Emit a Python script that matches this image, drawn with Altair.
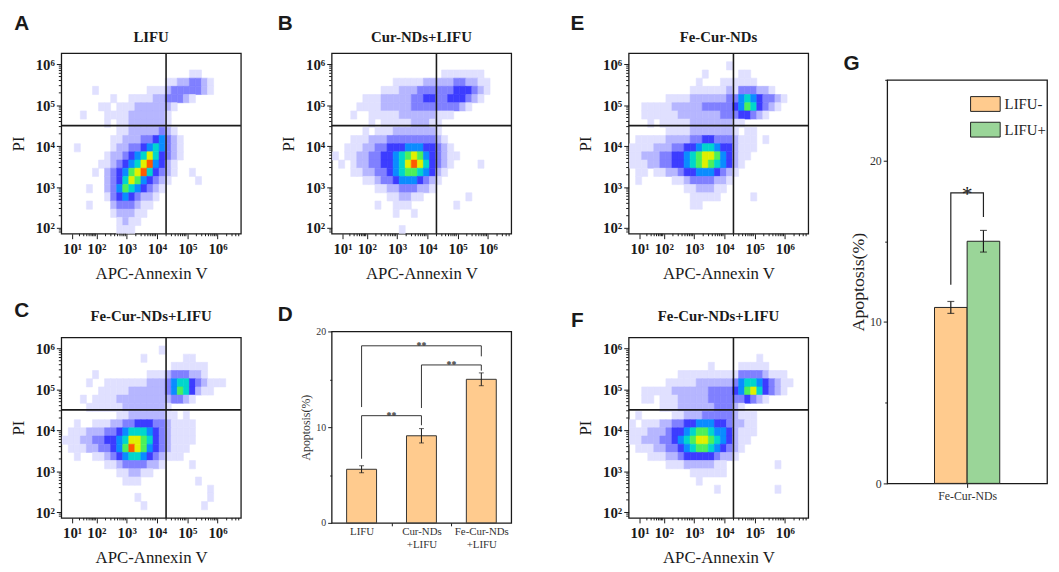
import json
import numpy as np
import pandas as pd
import altair as alt

# ---------------- data ----------------
# Flow-cytometry density maps, one tuple per run of cells:
# (row index, first column index, density level 0-9 of consecutive cells)
A_GRID = [
    (19, 21, "11"),
    (18, 17, "11223321"),
    (17, 5, "1"), (17, 14, "11123333321"),
    (16, 8, "10011112233321"),
    (15, 6, "1101112222221"),
    (14, 3, "100011112222221"),
    (13, 7, "10112222221"),
    (12, 9, "1122222321"),
    (11, 8, "112223345321"),
    (10, 2, "1"), (10, 8, "122334565321"),
    (9, 7, "1223456864321"),
    (8, 6, "1123456895421"),
    (7, 5, "10234578964321001"),
    (6, 7, "2346875432100001"),
    (5, 4, "1002357654321"),
    (4, 7, "134543221"),
    (3, 4, "10002333211"),
    (2, 8, "122211"),
    (1, 9, "1211"),
    (0, 9, "111"),
]
B_GRID = [
    (19, 18, "1111111"),
    (18, 10, "1111122222332211"),
    (17, 8, "111222333333444321"),
    (16, 5, "11122222334433444321"),
    (15, 4, "1111222223333333321"),
    (14, 3, "10011111222222111"),
    (13, 6, "101111122211"),
    (12, 5, "1011122222221"),
    (11, 3, "1112223333333321"),
    (10, 2, "111223344455544321"),
    (9, 0, "101122334456787543211"),
    (8, 1, "1012233445689864321"), (8, 24, "1"),
    (7, 3, "1122334567765421"),
    (6, 5, "1123345554321"),
    (5, 7, "1122333221"),
    (4, 9, "112211"), (4, 22, "1"),
    (3, 7, "100111"), (3, 20, "1"),
    (2, 10, "1001"),
    (0, 11, "1"),
]
E_GRID = [
    (20, 16, "1"),
    (19, 12, "1"), (19, 18, "11"),
    (18, 11, "1"), (18, 15, "111111"),
    (17, 10, "11111121333221"),
    (16, 6, "11112222223356543321"),
    (15, 2, "11111222223333345764321"),
    (14, 2, "111111222222233344321"),
    (13, 3, "1011111222222211"),
    (12, 6, "111122222221011"),
    (11, 1, "1111122223344333211101"),
    (10, 0, "111122233445665442111"),
    (9, 0, "11222334456788754211"),
    (8, 0, "1112233445678765421"),
    (7, 1, "11011223445554321"),
    (6, 1, "1"), (6, 7, "1123333221"),
    (5, 9, "1122211"),
    (4, 10, "11111"), (4, 20, "1"),
    (3, 10, "11"),
]
C_GRID = [
    (20, 16, "1"),
    (19, 13, "1"), (19, 20, "11"),
    (18, 18, "111111"),
    (17, 5, "1"), (17, 14, "1112333221"),
    (16, 4, "10011111112223566432111"),
    (15, 6, "1111122222235764211"),
    (14, 3, "1011112222222223321"),
    (13, 4, "11111122222221"),
    (12, 9, "112222221101"),
    (11, 2, "10011122334443321111"),
    (10, 1, "111222334566654321111"),
    (9, 0, "1112233445688764321111"),
    (8, 1, "11122334579875432111"),
    (7, 2, "100112345665432111"),
    (6, 7, "112333322100001"),
    (5, 9, "112211"),
    (4, 10, "111"), (4, 22, "1"),
    (3, 24, "1"),
    (2, 12, "1"), (2, 24, "1"),
    (1, 13, "1"), (1, 23, "1"),
]
F_GRID = [
    (19, 21, "1"),
    (18, 13, "1000011111"),
    (17, 8, "111111111133332111"),
    (16, 6, "111112222223566543211"),
    (15, 2, "111112222223333457864321"),
    (14, 2, "110111222223333334321"),
    (13, 5, "11122222233321"),
    (12, 1, "1"), (12, 7, "11222333332111"),
    (11, 0, "101112233445554432211"),
    (10, 0, "111222344567765542111"),
    (9, 0, "11222334567887654211"),
    (8, 1, "111223345677654321"),
    (7, 3, "111223444443221"),
    (6, 6, "1112222211"), (6, 24, "1"),
    (5, 10, "111111"),
    (4, 11, "1"),
    (3, 14, "1"), (3, 24, "1"),
]

FLOW_TITLES = ["LIFU", "Cur-NDs+LIFU", "Fe-Cur-NDs", "Fe-Cur-NDs+LIFU", "Fe-Cur-NDs+LIFU"]
FLOW_LETTERS = ["A", "B", "E", "C", "F"]
X_TICK_LABELS = ["10¹", "10²", "10³", "10⁴", "10⁵", "10⁶"]
Y_TICK_LABELS = ["10²", "10³", "10⁴", "10⁵", "10⁶"]
GATE_X = 4.3
GATE_Y = 4.5

D_GROUPS = [["LIFU"], ["Cur-NDs", "+LIFU"], ["Fe-Cur-NDs", "+LIFU"]]
D_MEAN = [5.6, 9.1, 15.0]
D_ERR = [0.37, 0.75, 0.67]
# left group, right group, left arm bottom, bracket top, right arm bottom
D_BRACKETS = [
    (0, 1, 6.7, 11.2, 10.2),
    (1, 2, 12.0, 16.5, 15.9),
    (0, 2, 12.1, 18.5, 17.4),
]
D_STARS = ["**", "**", "**"]

G_CATEGORY = "Fe-Cur-NDs"
G_SERIES = ["LIFU-", "LIFU+"]
G_MEAN = [10.9, 15.0]
G_ERR = [0.37, 0.67]
G_BRACKET = (12.3, 18.0, 16.5)
G_STAR = "*"

# ---------------- styling / geometry ----------------
SERIF = "Liberation Serif"
SANS = "Liberation Sans"
INK = "#1a1a1a"
LEVEL_COLORS = ["#e0e0ff", "#b6b6ff", "#8080ff", "#3c3cff", "#0a8cff",
                "#00d6cc", "#4cf05a", "#e0f000", "#ff5a00"]
ORANGE = "#FFCB8E"
GREEN = "#9AD598"

FW, FH = 182, 183
XMIN, XMAX = 0.84, 6.77
YMIN, YMAX = 1.86, 6.27
X0, Y0, CELL = 0.87, 1.86, 0.2
X_MAJOR = [1.2, 2, 3, 4, 5, 6]
Y_MAJOR = [2, 3, 4, 5, 6]
X_MINOR = [round(1.2 + 0.8 * float(np.log10(k)), 4) for k in range(2, 10)] + [
    round(n + float(np.log10(k)), 4) for n in range(2, 7) for k in range(2, 10)
    if n + np.log10(k) < XMAX - 0.02]
Y_MINOR = [round(n + float(np.log10(k)), 4) for n in range(1, 7) for k in range(2, 10)
           if YMIN + 0.02 < n + np.log10(k) < YMAX - 0.02]


def label_expr(values, labels):
    expr = ""
    for v, l in zip(values, labels):
        expr += f"abs(datum.value - {v}) < 0.001 ? {json.dumps(l, ensure_ascii=False)} : "
    return expr + "''"


def grid_frame(grid):
    rows = []
    for j, c0, digits in grid:
        for k, ch in enumerate(digits):
            if ch != "0":
                i = c0 + k
                rows.append({"x0": X0 + CELL * i, "x1": X0 + CELL * (i + 1),
                             "y0": Y0 + CELL * j, "y1": Y0 + CELL * (j + 1), "lvl": ch})
    return pd.DataFrame(rows)


ONE = pd.DataFrame({"k": [0]})


def anchors(L, R, T, B, W, H):
    base = alt.Chart(ONE).mark_rule(stroke="white", strokeOpacity=0.01, strokeWidth=1)
    h = base.encode(x=alt.value(-L), x2=alt.value(W + R), y=alt.value(-T))
    v = base.encode(x=alt.value(-L), y=alt.value(-T), y2=alt.value(H + B))
    return [h, v]


def text_layer(txt, x, y, font, size, weight="normal", baseline="middle", align="center"):
    return alt.Chart(pd.DataFrame({"t": [txt]})).mark_text(
        font=font, fontSize=size, fontWeight=weight, color=INK,
        baseline=baseline, align=align
    ).encode(text="t:N", x=alt.value(x), y=alt.value(y))


XAXIS = alt.Axis(
    values=X_MAJOR, labelExpr=label_expr(X_MAJOR, X_TICK_LABELS),
    title="APC-Annexin V", titleFont=SERIF, titleFontSize=17, titleFontWeight="normal",
    titleColor=INK, titlePadding=9, labelFont=SERIF, labelFontSize=15, labelFontWeight="bold",
    labelColor=INK, labelPadding=3, labelOverlap=False, labelFlush=False, labelSeparation=0,
    tickSize=5, tickColor=INK, domain=False, grid=False)
YAXIS = alt.Axis(
    values=Y_MAJOR, labelExpr=label_expr(Y_MAJOR, Y_TICK_LABELS),
    title="PI", titleFont=SERIF, titleFontSize=17, titleFontWeight="normal",
    titleColor=INK, titlePadding=8, labelFont=SERIF, labelFontSize=15, labelFontWeight="bold",
    labelColor=INK, labelPadding=2, labelOverlap=False, labelFlush=False,
    tickSize=5, tickColor=INK, domain=False, grid=False)
XS = alt.Scale(domain=[XMIN, XMAX], nice=False, zero=False)
YS = alt.Scale(domain=[YMIN, YMAX], nice=False, zero=False)


def flow_panel(grid, title, letter, title_y, letter_xy, anc):
    df = grid_frame(grid)
    lvl_scale = alt.Scale(domain=list("123456789"), range=LEVEL_COLORS)
    heat = alt.Chart(df).mark_rect(clip=True, strokeWidth=0.6).encode(
        x=alt.X("x0:Q", scale=XS, axis=XAXIS), x2="x1",
        y=alt.Y("y0:Q", scale=YS, axis=YAXIS), y2="y1",
        color=alt.Color("lvl:N", scale=lvl_scale, legend=None),
        stroke=alt.Stroke("lvl:N", scale=lvl_scale, legend=None),
    )
    xminor = alt.Chart(pd.DataFrame({"x0": X_MINOR})).mark_rule(color=INK, strokeWidth=1).encode(
        x=alt.X("x0:Q", scale=XS, axis=XAXIS), y=alt.value(FH), y2=alt.value(FH + 2.5))
    yminor = alt.Chart(pd.DataFrame({"y0": Y_MINOR})).mark_rule(color=INK, strokeWidth=1).encode(
        y=alt.Y("y0:Q", scale=YS, axis=YAXIS), x=alt.value(0), x2=alt.value(-2.5))
    vg = alt.Chart(pd.DataFrame({"x0": [GATE_X]})).mark_rule(color=INK, strokeWidth=1.6).encode(
        x=alt.X("x0:Q", scale=XS, axis=XAXIS))
    hg = alt.Chart(pd.DataFrame({"y0": [GATE_Y]})).mark_rule(color=INK, strokeWidth=1.6).encode(
        y=alt.Y("y0:Q", scale=YS, axis=YAXIS))
    t = text_layer(title, FW / 2, title_y, SERIF, 15, "bold")
    lt = text_layer(letter, letter_xy[0], letter_xy[1], SANS, 21, "bold", baseline="top")
    return alt.layer(*anchors(*anc, FW, FH), heat, xminor, yminor, vg, hg, t, lt).properties(
        width=FW, height=FH)


# ---------------- panel D ----------------
DW, DH = 182, 194
d_df = pd.DataFrame({"pos": list(range(len(D_MEAN))), "m": D_MEAN, "e": D_ERR})
d_df["x0"] = d_df["pos"] - 0.25
d_df["x1"] = d_df["pos"] + 0.25
d_df["lo"] = d_df["m"] - d_df["e"]
d_df["hi"] = d_df["m"] + d_df["e"]

br_rows, star_rows = [], []
for b, (l, r, llo, top, rlo) in enumerate(D_BRACKETS):
    for o, (xx, yy) in enumerate([(l, llo), (l, top), (r, top), (r, rlo)]):
        br_rows.append({"b": b, "o": o, "x0": xx, "m": yy})
    star_rows.append({"x0": (l + r) / 2, "m": top, "s": D_STARS[b]})
d_br = pd.DataFrame(br_rows)
d_st = pd.DataFrame(star_rows)

d_xaxis = alt.Axis(
    values=[0, 0.5, 1, 1.5, 2], labelExpr=label_expr([0, 1, 2], D_GROUPS), title=None,
    labelFont=SERIF, labelFontSize=11, labelColor="#333", labelLineHeight=13, labelPadding=3,
    labelOverlap=False, labelFlush=False,
    tickSize={"condition": {"test": "datum.value % 1 != 0", "value": 3}, "value": 0},
    tickColor=INK, domain=False, grid=False)
d_yaxis = alt.Axis(
    values=[0, 5, 10, 15, 20], labelExpr="datum.value % 10 == 0 ? datum.label : ''",
    title="Apoptosis(%)", titleFont=SERIF, titleFontSize=12, titleFontWeight="normal",
    titleColor="#333", titlePadding=3, labelFont=SERIF, labelFontSize=10, labelColor="#333",
    labelPadding=2, labelOverlap=False,
    tickSize={"condition": {"test": "datum.value % 10 == 0", "value": 4}, "value": 2},
    tickColor=INK, domain=False, grid=False)
d_x = alt.Scale(domain=[-0.5, 2.5], nice=False, zero=False)
d_y = alt.Scale(domain=[0, 20], nice=False)
d_bars = alt.Chart(d_df).mark_rect(fill=ORANGE, stroke="#333", strokeWidth=1).encode(
    x=alt.X("x0:Q", scale=d_x, axis=d_xaxis), x2="x1",
    y=alt.Y("m:Q", scale=d_y, axis=d_yaxis), y2=alt.datum(0))
d_err = alt.Chart(d_df).mark_rule(color=INK, strokeWidth=1).encode(
    x="pos:Q", y="lo:Q", y2="hi")
d_cap_lo = alt.Chart(d_df).mark_tick(orient="horizontal", size=5, thickness=1, color=INK).encode(
    x="pos:Q", y="lo:Q")
d_cap_hi = alt.Chart(d_df).mark_tick(orient="horizontal", size=5, thickness=1, color=INK).encode(
    x="pos:Q", y="hi:Q")
d_lines = alt.Chart(d_br).mark_line(color="#333", strokeWidth=1).encode(
    x="x0:Q", y="m:Q", detail="b:N", order="o:Q")
d_stars = alt.Chart(d_st).mark_text(font=SERIF, fontSize=10, fontWeight="bold", color="#333",
                                    baseline="alphabetic", dy=3).encode(
    x="x0:Q", y="m:Q", text="s:N")
panel_D = alt.layer(*anchors(61, 49, 43, 44, DW, DH), d_bars, d_err, d_cap_lo, d_cap_hi,
                    d_lines, d_stars,
                    text_layer("D", -47, -28, SANS, 21, "bold", baseline="top")).properties(
    width=DW, height=DH)

# ---------------- panel G ----------------
GW, GH = 162, 409
g_df = pd.DataFrame({"series": G_SERIES, "m": G_MEAN, "e": G_ERR})
g_df["pos"] = [i - (len(G_SERIES) - 1) / 2 for i in range(len(G_SERIES))]
g_df["x0"] = g_df["pos"] - 0.5
g_df["x1"] = g_df["pos"] + 0.5
g_df["lo"] = g_df["m"] - g_df["e"]
g_df["hi"] = g_df["m"] + g_df["e"]
gl, gt, gr = G_BRACKET
p0, p1 = float(g_df["pos"].iloc[0]), float(g_df["pos"].iloc[1])
g_br = pd.DataFrame({"o": [0, 1, 2, 3], "x0": [p0, p0, p1, p1], "m": [gl, gt, gt, gr]})
g_st = pd.DataFrame({"x0": [(p0 + p1) / 2], "m": [gt], "s": [G_STAR]})

g_x = alt.Scale(domain=[-2.45, 2.45], nice=False, zero=False)
g_y = alt.Scale(domain=[0, 25], nice=False)
g_xaxis = alt.Axis(values=[0], labelExpr=json.dumps(G_CATEGORY), title=None,
                   labelFont=SERIF, labelFontSize=12, labelColor="#333", labelPadding=3,
                   tickSize=4, tickColor=INK, domain=False, grid=False)
g_yaxis = alt.Axis(
    values=[0, 5, 10, 15, 20, 25], labelExpr="datum.value % 10 == 0 ? datum.label : ''",
    title="Apoptosis(%)", titleFont=SERIF, titleFontSize=18, titleFontWeight="normal",
    titleColor="#222", titlePadding=2, labelFont=SERIF, labelFontSize=12, labelColor="#333",
    labelPadding=2, labelOverlap=False,
    tickSize={"condition": {"test": "datum.value % 10 == 0", "value": 4}, "value": 2.5},
    tickColor=INK, domain=False, grid=False)
g_bars = alt.Chart(g_df).mark_rect(stroke="#222", strokeWidth=1).encode(
    x=alt.X("x0:Q", scale=g_x, axis=g_xaxis), x2="x1",
    y=alt.Y("m:Q", scale=g_y, axis=g_yaxis), y2=alt.datum(0),
    color=alt.Color("series:N", scale=alt.Scale(domain=G_SERIES, range=[ORANGE, GREEN]),
                    legend=alt.Legend(orient="none", legendX=84, legendY=9, title=None,
                                      symbolType="M-1,-0.5H1V0.5H-1Z", symbolSize=900,
                                      symbolStrokeColor="#222", symbolStrokeWidth=1,
                                      symbolOpacity=1, labelFont=SERIF, labelFontSize=15,
                                      labelColor="#222", rowPadding=1, labelOffset=4,
                                      padding=0)))
g_err = alt.Chart(g_df).mark_rule(color=INK, strokeWidth=1.2).encode(
    x="pos:Q", y="lo:Q", y2="hi")
g_cap_lo = alt.Chart(g_df).mark_tick(orient="horizontal", size=7, thickness=1.2, color=INK).encode(
    x="pos:Q", y="lo:Q")
g_cap_hi = alt.Chart(g_df).mark_tick(orient="horizontal", size=7, thickness=1.2, color=INK).encode(
    x="pos:Q", y="hi:Q")
g_line = alt.Chart(g_br).mark_line(color="#222", strokeWidth=1.2).encode(
    x="x0:Q", y="m:Q", order="o:Q")
g_star = alt.Chart(g_st).mark_text(font=SERIF, fontSize=22, color="#222",
                                   baseline="alphabetic", dy=8).encode(
    x="x0:Q", y="m:Q", text="s:N")
panel_G = alt.layer(*anchors(49, 2, 30, 30, GW, GH), g_bars, g_err, g_cap_lo, g_cap_hi,
                    g_line, g_star,
                    text_layer("G", -36, -27, SANS, 21, "bold", baseline="top")).properties(
    width=GW, height=GH)

spacer = alt.Chart(ONE).mark_rule(stroke="white", strokeOpacity=0.01).encode(
    x=alt.value(0), x2=alt.value(1), y=alt.value(0)).properties(
    width=GW, height=1, view=alt.ViewBackground(stroke="transparent"))

# ---------------- flow panels ----------------
panel_A = flow_panel(A_GRID, FLOW_TITLES[0], FLOW_LETTERS[0], -16, (-40, -40), (51, 27, 40, 52))
panel_B = flow_panel(B_GRID, FLOW_TITLES[1], FLOW_LETTERS[1], -16, (-47, -40), (61, 49, 40, 52))
panel_E = flow_panel(E_GRID, FLOW_TITLES[2], FLOW_LETTERS[2], -16, (-52, -40), (66, 27, 40, 52))
panel_C = flow_panel(C_GRID, FLOW_TITLES[3], FLOW_LETTERS[3], -22, (-40, -38), (51, 27, 49, 44))
panel_F = flow_panel(F_GRID, FLOW_TITLES[4], FLOW_LETTERS[4], -22, (-52, -28), (66, 27, 49, 44))


def col(a, b, spacing=0):
    return alt.vconcat(a, b, spacing=spacing).resolve_scale(
        color="independent", stroke="independent").resolve_legend(
        color="independent", stroke="independent")


chart = alt.hconcat(col(panel_A, panel_C), col(panel_B, panel_D), col(panel_E, panel_F),
                    col(spacer, panel_G, spacing=-7), spacing=0).resolve_scale(
    color="independent", stroke="independent").resolve_legend(
    color="independent", stroke="independent").properties(
    padding=0, background="white").configure_view(
    stroke=INK, strokeWidth=1.3).configure_axis(labelOverlap=False)

chart.save("out.html", embed_options={"renderer": "svg", "actions": False})
